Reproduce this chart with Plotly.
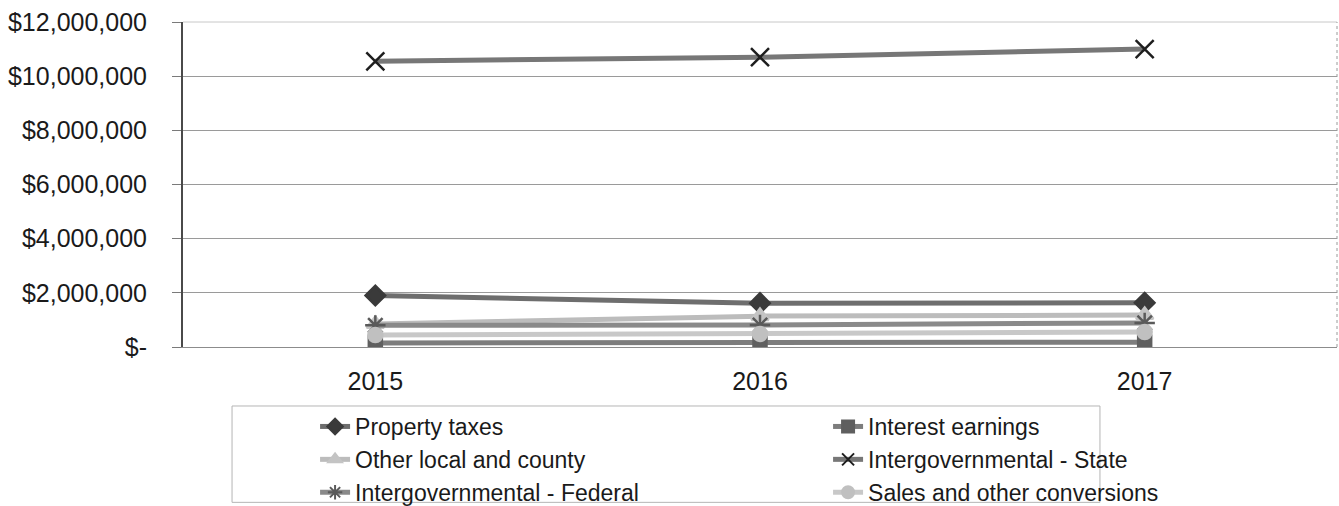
import plotly.graph_objects as go

# Revenue sources by fiscal year
years = ["2015", "2016", "2017"]

property_taxes = [1900000, 1620000, 1630000]
interest_earnings = [150000, 150000, 180000]
other_local_county = [850000, 1140000, 1180000]
intergov_state = [10550000, 10700000, 11000000]
intergov_federal = [800000, 810000, 890000]
sales_other = [440000, 480000, 550000]

y_tick_values = [0, 2000000, 4000000, 6000000, 8000000, 10000000, 12000000]
y_tick_labels = ["$-", "$2,000,000", "$4,000,000", "$6,000,000",
                 "$8,000,000", "$10,000,000", "$12,000,000"]

series = [
    ("Property taxes", property_taxes, "#6e6e6e", "diamond", "#3a3a3a", 15),
    ("Interest earnings", interest_earnings, "#7d7d7d", "square", "#5f5f5f", 13),
    ("Other local and county", other_local_county, "#bcbcbc", "triangle-up", "#c4c4c4", 15),
    ("Intergovernmental - State", intergov_state, "#777777", "x-thin-open", "#1e1e1e", 18),
    ("Intergovernmental - Federal", intergov_federal, "#8a8a8a", "asterisk-open", "#5a5a5a", 17),
    ("Sales and other conversions", sales_other, "#c8c8c8", "circle", "#c0c0c0", 14),
]

fig = go.Figure()
for name, values, line_color, symbol, marker_color, size in series:
    fig.add_trace(go.Scatter(
        x=years, y=values, name=name, mode="lines+markers",
        line=dict(color=line_color, width=5),
        marker=dict(symbol=symbol, size=size, color=marker_color,
                    line=dict(color=marker_color, width=2.5)),
    ))

font_family = "Liberation Sans, Arial, sans-serif"

fig.update_layout(
    width=1339, height=506,
    margin=dict(l=183, r=2, t=22, b=159),
    paper_bgcolor="white", plot_bgcolor="white",
    font=dict(family=font_family, size=25, color="#1a1a1a"),
    showlegend=True,
    legend=dict(
        orientation="h",
        xref="container", yref="container",
        x=0.2353, xanchor="left",
        y=0.1996, yanchor="top",
        entrywidth=468, entrywidthmode="pixels",
        borderwidth=0,
        bgcolor="rgba(0,0,0,0)",
        font=dict(family=font_family, size=23, color="#1a1a1a"),
        tracegroupgap=0, itemsizing="constant",
    ),
)

fig.update_xaxes(
    type="category", range=[-0.5, 2.5],
    showgrid=False, showline=True, linecolor="#8c8c8c", linewidth=1,
    mirror=False, ticks="", ticklabelstandoff=12,
    tickfont=dict(family=font_family, size=25, color="#1a1a1a"),
)

fig.update_yaxes(
    range=[0, 12000000], tickvals=y_tick_values, ticktext=y_tick_labels,
    showgrid=True, gridcolor="#9a9a9a", gridwidth=1,
    showline=True, linecolor="#4a4a4a", linewidth=2,
    ticks="outside", ticklen=9, tickcolor="#7a7a7a",
    ticklabelstandoff=20, zeroline=False,
    tickfont=dict(family=font_family, size=25, color="#1a1a1a"),
)

# light frame on the top and right of the plot area
fig.add_shape(type="line", xref="paper", yref="paper", x0=0, x1=1, y0=1, y1=1,
              line=dict(color="#c8c8c8", width=1))
fig.add_shape(type="line", xref="paper", yref="paper", x0=1, x1=1, y0=0, y1=1,
              line=dict(color="#9a9a9a", width=1, dash="dot"))
# box framing the legend
fig.add_shape(type="rect", xref="paper", yref="paper",
              x0=0.0425, x1=0.7946, y0=-0.1815, y1=-0.478,
              line=dict(color="#b5b5b5", width=1), fillcolor="rgba(0,0,0,0)",
              layer="below")

fig.write_html("out.html")
